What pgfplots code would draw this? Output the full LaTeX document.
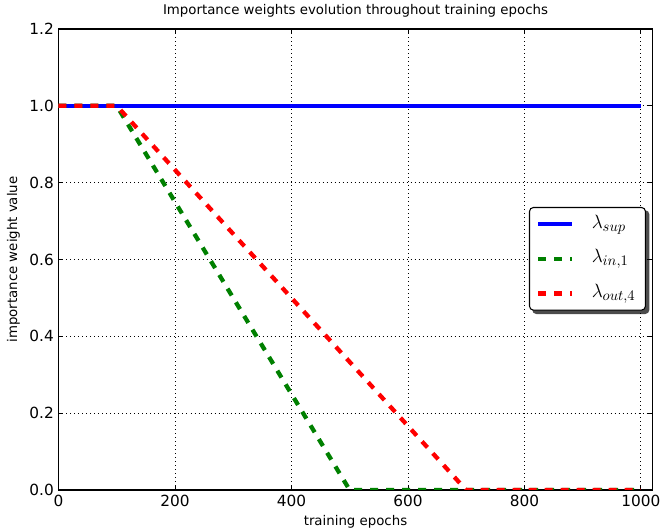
\documentclass[border=0pt]{standalone}
\usepackage{pgfplots}
\pgfplotsset{compat=1.18}
\usepackage{fontspec}
\setmainfont{DejaVu Sans}
\usetikzlibrary{backgrounds}

\definecolor{mplblue}{rgb}{0,0,1}
\definecolor{mplgreen}{rgb}{0,0.5,0}
\definecolor{mplred}{rgb}{1,0,0}

\begin{document}
\begin{tikzpicture}
  \begin{axis}[
    scale only axis,
    width=445.5pt, height=345.75pt,
    xmin=0, xmax=1020, ymin=0, ymax=1.2,
    xtick={0,200,...,1000},
    ytick={0,0.2,...,1.2},
    xticklabel style={/pgf/number format/.cd, 1000 sep={}},
    yticklabel style={/pgf/number format/.cd, fixed, fixed zerofill, precision=1},
    /pgf/number format/assume math mode=true,
    tick label style={font=\fontsize{11.5}{13}\selectfont},
    tick align=inside, xtick pos=both, ytick pos=both,
    major tick length=3.3pt,
    tick style={black, line width=0.6pt},
    axis line style={line width=0.8pt},
    grid=major,
    major grid style={black, line width=0.6pt, dash pattern=on 0.75pt off 2.25pt},
    title={Importance weights evolution throughout training epochs},
    title style={font=\fontsize{10}{12}\selectfont, at={(axis description cs:0.5,1.013)}, anchor=base, inner sep=0pt},
    xlabel={training epochs},
    xlabel style={font=\fontsize{10}{12}\selectfont, at={(axis description cs:0.5,-0.0781)}, anchor=base, inner sep=0pt},
    ylabel={importance weight value},
    ylabel style={font=\fontsize{10}{12}\selectfont, at={(axis description cs:-0.0696,0.5)}, anchor=base, inner sep=0pt},
    legend cell align=left,
    legend image code/.code={\draw[#1] (0pt,0pt) -- (25pt,0pt);},
    legend style={
      name=leg,
      at={(axis description cs:0.792,0.614)}, anchor=north west,
      draw=black, line width=0.8pt, fill=white, rounded corners=3pt,
      font=\fontsize{15}{17}\selectfont,
      inner xsep=5pt, inner ysep=2.5pt, row sep=6pt, column sep=11pt,
      nodes={inner xsep=2.5pt, text depth=5pt, text height=11pt}},
  ]
    \addplot[mplblue, line width=3.2pt] coordinates {(0,1) (1000,1)};
    \addlegendentry{$\lambda_{sup}$}
    \addplot[mplgreen, line width=3.2pt, dash pattern=on 6pt off 6pt] coordinates {(0,1) (100,1) (500,0) (1000,0)};
    \addlegendentry{$\lambda_{in,1}$}
    \addplot[mplred, line width=3.2pt, dash pattern=on 6pt off 6pt] coordinates {(0,1) (100,1) (700,0) (1000,0)};
    \addlegendentry{$\lambda_{out,4}$}
  \end{axis}
  \begin{scope}[on background layer]
    \fill[black, opacity=0.7, rounded corners=3pt]
      ([xshift=2.5pt,yshift=-2.5pt]leg.south west) rectangle ([xshift=2.5pt,yshift=-2.5pt]leg.north east);
  \end{scope}
  \pgfresetboundingbox
  \path[use as bounding box] (-43.875pt,-30pt) rectangle (454.125pt,367.5pt);
\end{tikzpicture}
\end{document}
